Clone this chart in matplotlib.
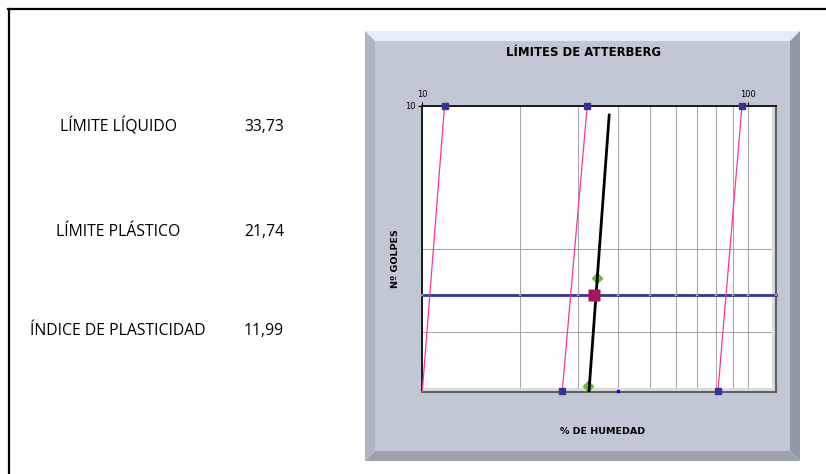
import matplotlib
matplotlib.use('Agg')
import matplotlib.pyplot as plt
from matplotlib.patches import Polygon, Rectangle
from matplotlib.lines import Line2D

W, H = 826, 474

# --- datos ---
limite_liquido = "33,73"
limite_plastico = "21,74"
indice_plasticidad = "11,99"

# lineas rosas (humedad, golpes)
rosa_x = [[10.0, 11.7], [26.9, 32.1], [80.9, 95.9]]
rosa_y = [[40, 10], [40, 10], [40, 10]]

# linea de 25 golpes
azul_x = [10, 20, 30, 40, 50, 60, 70, 80, 90, 100, 122]
azul_y = [25] * len(azul_x)

# recta de ajuste
negra_x = [32.5, 37.5]
negra_y = [40, 10.45]

# puntos de ensayo
verde_x = [34.3, 32.2]
verde_y = [23.0, 39.0]

# limite liquido a 25 golpes
ll_x = [33.73]
ll_y = [25]

extra_x = [40]
extra_y = [40]


def fx(px):
    return px / W


def fy(py):
    return 1 - py / H


fig = plt.figure(figsize=(W / 100, H / 100), dpi=100)
fig.patch.set_facecolor('white')

# borde negro de la hoja
fig.add_artist(Line2D([fx(8), 1], [fy(9), fy(9)], color='black', lw=1.6))
fig.add_artist(Line2D([fx(8.5), fx(8.5)], [fy(9), 0], color='black', lw=1.6))

# marco biselado del grafico
x0, y0, x1, y1, b = 365, 31, 800, 461, 10
def quad(pts, c):
    fig.add_artist(Polygon([(fx(a), fy(bb)) for a, bb in pts], closed=True,
                           facecolor=c, edgecolor='none', zorder=-5))
quad([(x0, y0), (x1, y0), (x1 - b, y0 + b), (x0 + b, y0 + b)], '#e6ecf8')
quad([(x0, y0), (x0 + b, y0 + b), (x0 + b, y1 - b), (x0, y1)], '#aeb5c3')
quad([(x1, y0), (x1, y1), (x1 - b, y1 - b), (x1 - b, y0 + b)], '#9299a6')
quad([(x0, y1), (x0 + b, y1 - b), (x1 - b, y1 - b), (x1, y1)], '#9ba2ae')
quad([(x0 + b, y0 + b), (x1 - b, y0 + b), (x1 - b, y1 - b), (x0 + b, y1 - b)], '#c1c7d5')

# textos de la izquierda
ft = dict(family='Open Sans', fontsize=11.3, ha='center', va='center')
fig.text(fx(118), fy(127), "LÍMITE LÍQUIDO", **ft)
fig.text(fx(264), fy(127), limite_liquido, **ft)
fig.text(fx(118), fy(232), "LÍMITE PLÁSTICO", **ft)
fig.text(fx(264), fy(232), limite_plastico, **ft)
fig.text(fx(118), fy(331), "ÍNDICE DE PLASTICIDAD", **ft)
fig.text(fx(264), fy(331), indice_plasticidad, **ft)

# ejes
ax = fig.add_axes([fx(422.3), fy(391.5), fx(776 - 422.3), (391.5 - 106) / H])
ax.set_zorder(2)
ax.set_facecolor('white')
ax.set_xscale('log')
ax.set_yscale('log')
ax.set_xlim(10, 122)
ax.set_ylim(40, 10)

ax.set_xticks([10, 100])
ax.set_xticklabels(['10', '100'])
ax.set_xticks([20, 30, 40, 50, 60, 70, 80, 90], minor=True)
ax.set_yticks([10])
ax.set_yticklabels(['10'])
ax.set_yticks([20, 30], minor=True)
ax.xaxis.set_minor_formatter(matplotlib.ticker.NullFormatter())
ax.yaxis.set_minor_formatter(matplotlib.ticker.NullFormatter())
ax.xaxis.tick_top()
ax.tick_params(which='major', labelsize=6, length=3, width=0.8, pad=2)
ax.tick_params(which='minor', length=0)
ax.grid(True, which='both', color='#a6a6a6', lw=0.75)
ax.set_axisbelow(True)

for s in ['left', 'top']:
    ax.spines[s].set_color('black')
    ax.spines[s].set_linewidth(1.2)
for s in ['right', 'bottom']:
    ax.spines[s].set_color('#606060')
    ax.spines[s].set_linewidth(1.5)
# sombra interior
ax.add_patch(Rectangle((0.988, 0), 0.012, 1, transform=ax.transAxes,
                       facecolor='#dcdcdc', edgecolor='none', zorder=1))
ax.add_patch(Rectangle((0, 0), 1, 0.012, transform=ax.transAxes,
                       facecolor='#dcdcdc', edgecolor='none', zorder=1))

ax.plot(azul_x, azul_y, color='#333399', lw=2, marker='s', ms=1.6,
        mfc='#bbbb77', mec='#7777aa', mew=0.3, clip_on=False, zorder=3)

for i, (xs, ys) in enumerate(zip(rosa_x, rosa_y)):
    ax.plot(xs, ys, color='#ff3399', lw=0.9, zorder=4)
    ax.plot(xs if i else xs[1:], ys if i else ys[1:], ls='none', marker='s',
            ms=4, color='#333399', clip_on=False, zorder=5)

ax.plot(negra_x, negra_y, color='black', lw=2, zorder=6)
ax.plot(verde_x, verde_y, ls='none', marker='D', ms=6, color='#66bb33',
        mec='none', zorder=5)
ax.plot(ll_x, ll_y, ls='none', marker='s', ms=8, color='#a8155f',
        mec='none', zorder=7)
ax.plot(extra_x, extra_y, ls='none', marker='s', ms=2, color='#0000ff',
        clip_on=False, zorder=5)

fig.text(fx(583), fy(53), "LÍMITES DE ATTERBERG", fontsize=8.4,
         fontweight='bold', ha='center', va='center')
fig.text(fx(395), fy(259), "Nº GOLPES", fontsize=6.8, fontweight='bold',
         rotation=90, ha='center', va='center')
fig.text(fx(603), fy(432), "% DE HUMEDAD", fontsize=6.8, fontweight='bold',
         ha='center', va='center')

fig.savefig('out.png', dpi=100)
